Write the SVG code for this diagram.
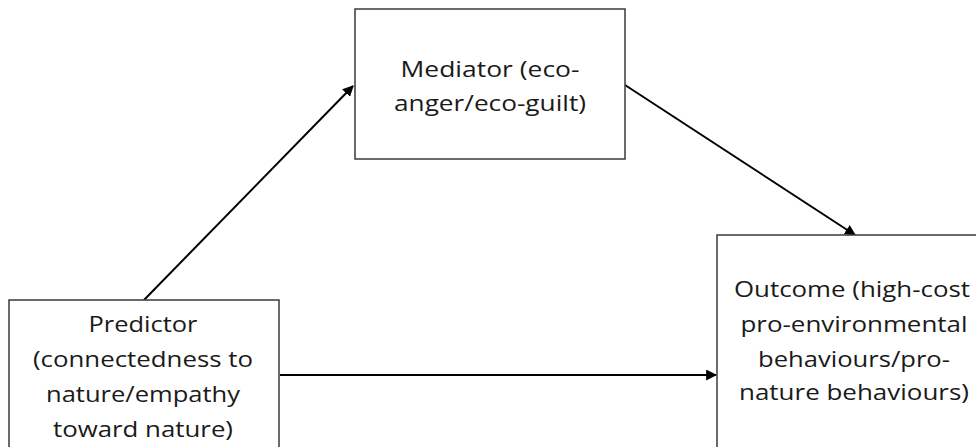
<svg xmlns="http://www.w3.org/2000/svg" width="976" height="447" viewBox="0 0 976 447">
<style>
.box{fill:#fff;stroke:#3a3a3a;stroke-width:1.5}
.t{font-family:"Open Sans","Liberation Sans",Arial,sans-serif;font-size:21px;fill:#1a1a1a;text-anchor:middle}
.c{stroke:#000;stroke-width:2;fill:none;marker-end:url(#ah)}
</style>
<defs>
<marker id="ah" viewBox="0 0 10 10" refX="9" refY="5" markerWidth="5.5" markerHeight="5.5" orient="auto" markerUnits="strokeWidth">
<path d="M0,0 L10,5 L0,10 z" fill="#000"/>
</marker>
</defs>
<g id="connectors">
<line class="c" x1="144" y1="300" x2="353" y2="86"/>
<line class="c" x1="625" y1="85" x2="855" y2="235"/>
<line class="c" x1="280" y1="375" x2="716" y2="375"/>
</g>
<g id="mediator">
<rect class="box" x="355" y="9" width="270" height="150"/>
<text class="t" x="490" y="77" textLength="179" lengthAdjust="spacingAndGlyphs">Mediator (eco-</text>
<text class="t" x="490" y="111" textLength="192" lengthAdjust="spacingAndGlyphs">anger/eco-guilt)</text>
</g>
<g id="predictor">
<rect class="box" x="9" y="300" width="270" height="160"/>
<text class="t" x="143" y="332" textLength="109" lengthAdjust="spacingAndGlyphs">Predictor</text>
<text class="t" x="143" y="367" textLength="220" lengthAdjust="spacingAndGlyphs">(connectedness to</text>
<text class="t" x="143" y="402" textLength="194" lengthAdjust="spacingAndGlyphs">nature/empathy</text>
<text class="t" x="143" y="437" textLength="180" lengthAdjust="spacingAndGlyphs">toward nature)</text>
</g>
<g id="outcome">
<rect class="box" x="717" y="235" width="270" height="230"/>
<text class="t" x="852" y="297" textLength="236" lengthAdjust="spacingAndGlyphs">Outcome (high-cost</text>
<text class="t" x="854" y="332" textLength="227" lengthAdjust="spacingAndGlyphs">pro-environmental</text>
<text class="t" x="854" y="367" textLength="192" lengthAdjust="spacingAndGlyphs">behaviours/pro-</text>
<text class="t" x="854" y="400" textLength="230" lengthAdjust="spacingAndGlyphs">nature behaviours)</text>
</g>
</svg>
